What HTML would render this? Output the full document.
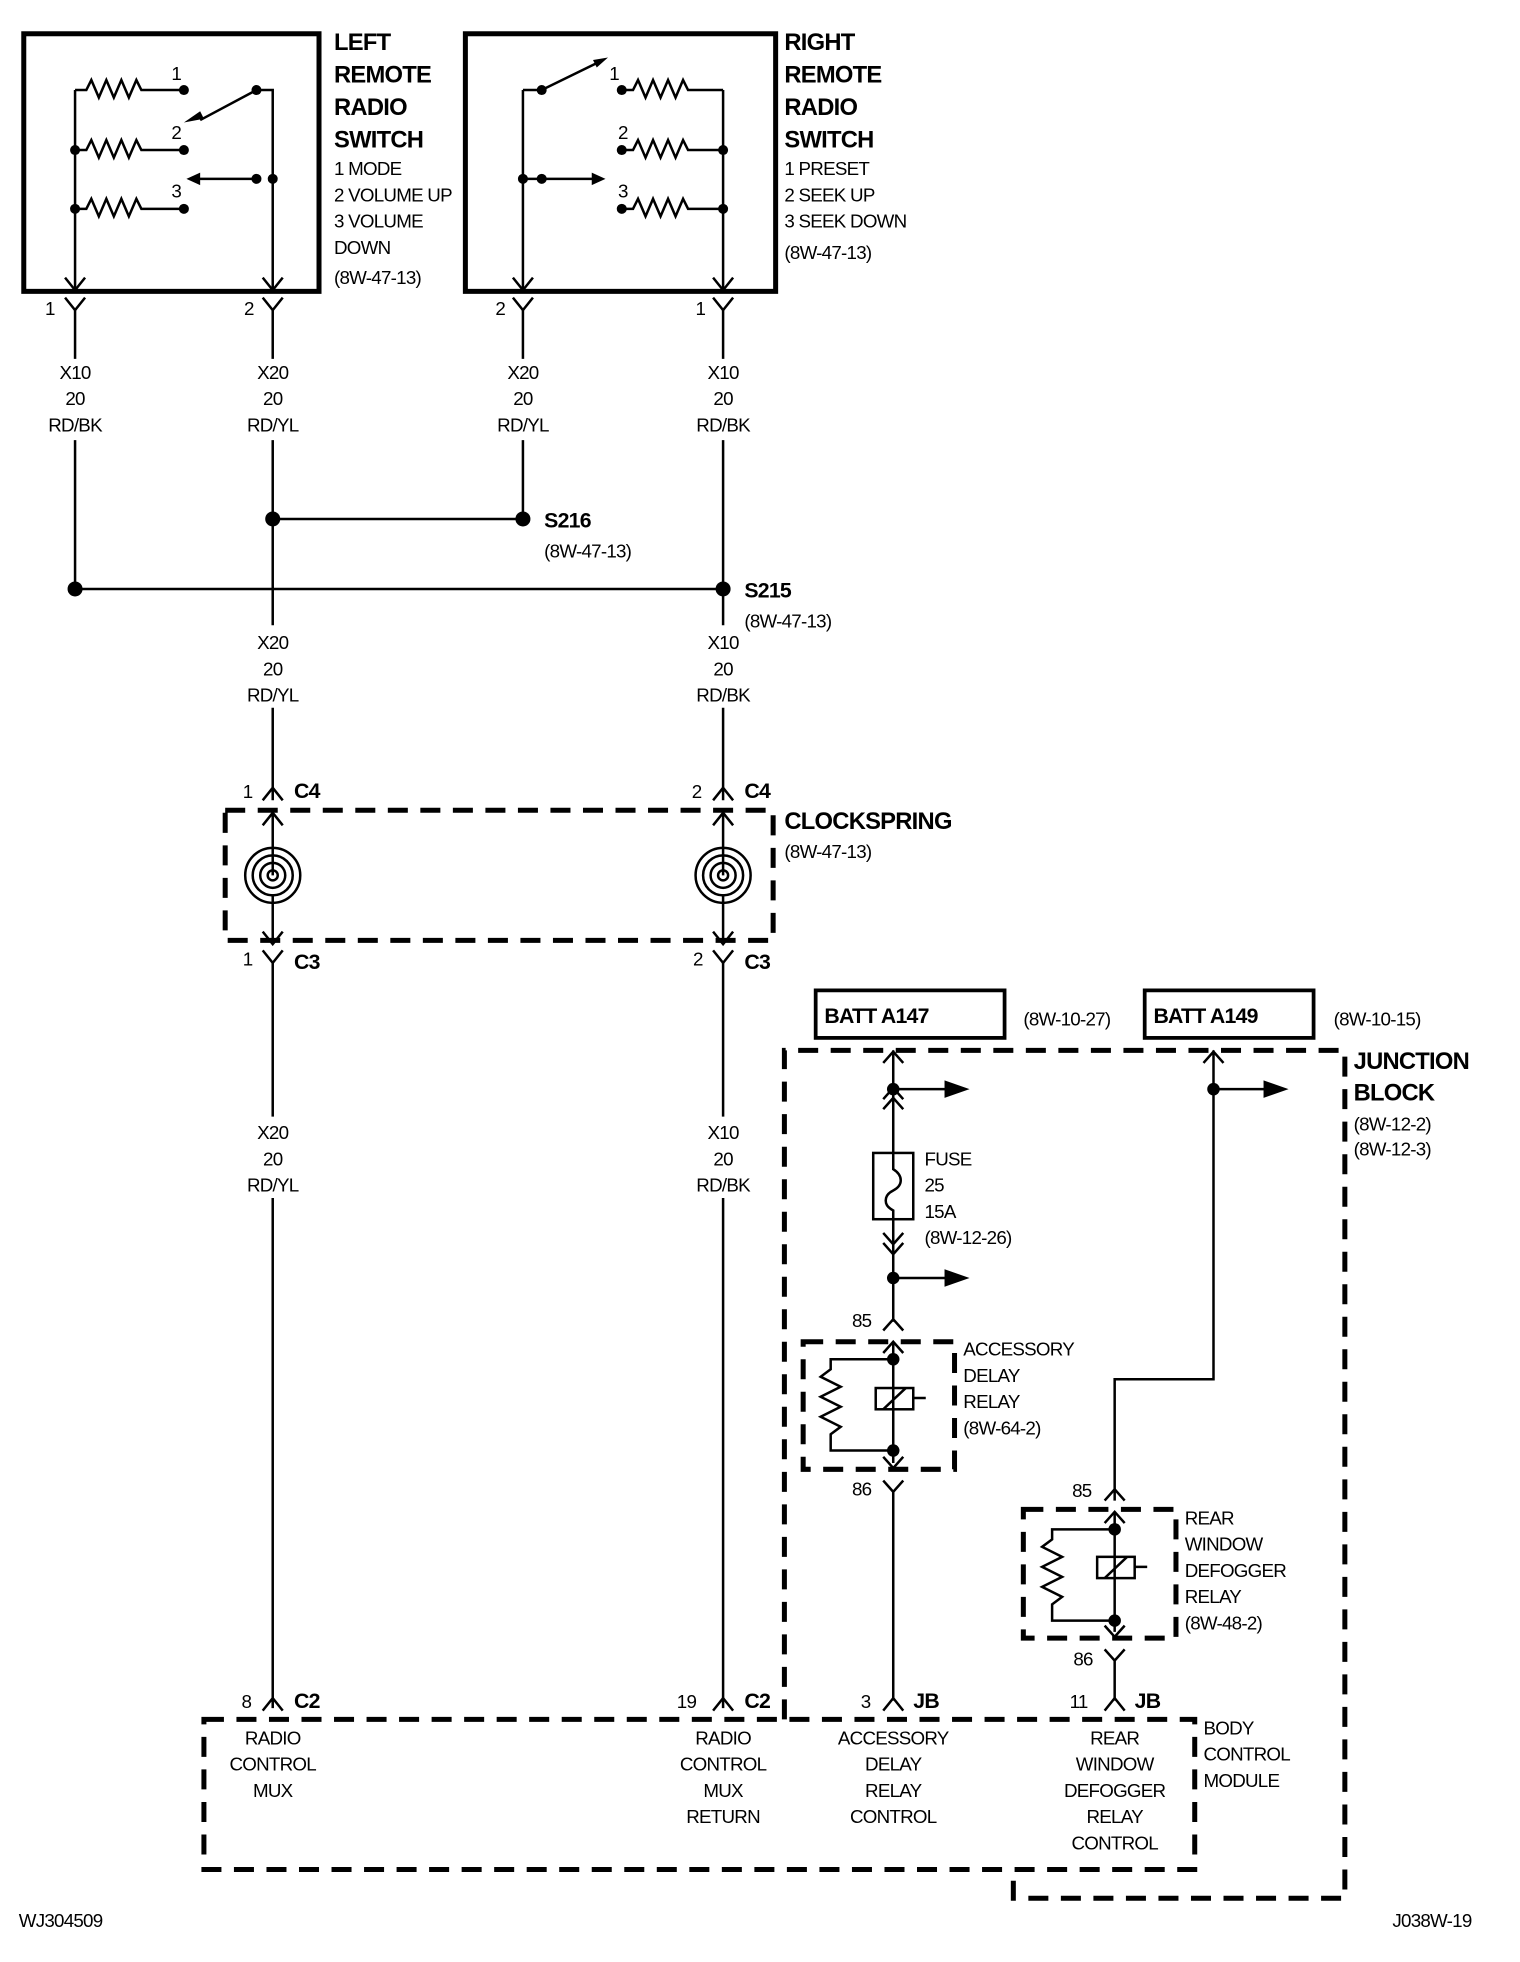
<!DOCTYPE html>
<html><head><meta charset="utf-8"><style>
html,body{margin:0;padding:0;background:#fff;}
svg{display:block;}
text{font-family:"Liberation Sans",Arial,sans-serif;fill:#000;letter-spacing:-0.6px;}
.s{font-size:15px;}
.b{font-size:19px;font-weight:bold;}
.m{font-size:17px;font-weight:bold;}
</style></head><body>
<svg width="1520" height="1962" viewBox="0 0 1215 1569" preserveAspectRatio="none" xmlns="http://www.w3.org/2000/svg">
<g fill="none" stroke="#000" stroke-width="2">
<rect x="19" y="27" width="236" height="206" stroke-width="4"/>
<path d="M60 72 H69 l4 -8 l6 14 l6 -14 l6 14 l6 -14 l6 14 l6 -14 l4 8 H147"/>
<path d="M60 120 H69 l4 -8 l6 14 l6 -14 l6 14 l6 -14 l6 14 l6 -14 l4 8 H147"/>
<path d="M60 167 H69 l4 -8 l6 14 l6 -14 l6 14 l6 -14 l6 14 l6 -14 l4 8 H147"/>
<path d="M60 72 V232 M205 72 H218 V232 M205 72 L160 96 M205 143 H158"/>
<path d="M52 222 L60 232 L68 222 M210 222 L218 232 L226 222"/>
<rect x="372" y="27" width="248" height="206" stroke-width="4"/>
<path d="M497 72 H506 l4 -8 l6 14 l6 -14 l6 14 l6 -14 l6 14 l6 -14 l4 8 H578"/>
<path d="M497 120 H506 l4 -8 l6 14 l6 -14 l6 14 l6 -14 l6 14 l6 -14 l4 8 H578"/>
<path d="M497 167 H506 l4 -8 l6 14 l6 -14 l6 14 l6 -14 l6 14 l6 -14 l4 8 H578"/>
<path d="M578 72 V232 M418 72 V232 M418 72 H433 L478 50 M418 143 H475"/>
<path d="M410 222 L418 232 L426 222 M570 222 L578 232 L586 222"/>
<path d="M52 238 L60 248 L68 238 M210 238 L218 248 L226 238 M410 238 L418 248 L426 238 M570 238 L578 248 L586 238"/>
<path d="M60 248 V287 M218 248 V287 M418 248 V287 M578 248 V287"/>
<path d="M60 352 V471 H578 M218 352 V500 M418 352 V415 H218 M578 352 V500"/>
<path d="M218 566 V640 M578 566 V640"/>
<path d="M210 640 L218 630 L226 640 M570 640 L578 630 L586 640"/>
<path d="M210 660 L218 650 L226 660 M570 660 L578 650 L586 660"/>
<path d="M218 650 V700 M578 650 V700 M218 715 V755 M578 715 V755"/>
<path d="M210 745 L218 755 L226 745 M570 745 L578 755 L586 745"/>
<path d="M210 760 L218 770 L226 760 M570 760 L578 770 L586 760"/>
<path d="M218 770 V893 M578 770 V893 M218 958 V1366 M578 958 V1366"/>
<path d="M180 648 H618 V752 H180 Z" stroke-width="4" stroke-dasharray="16,10"/>
<path d="M210 1368 L218 1358 L226 1368 M570 1368 L578 1358 L586 1368 M706 1368 L714 1358 L722 1368 M883 1368 L891 1358 L899 1368"/>
<path d="M163 1375 H955 V1495 H163 Z" stroke-width="4" stroke-dasharray="16,10"/>
<path d="M627 1375 V840 H1075 V1518 H810 V1495" stroke-width="4" stroke-dasharray="16,10"/>
<rect x="652" y="792" width="151" height="38" stroke-width="3"/>
<rect x="915" y="792" width="135" height="38" stroke-width="3"/>
<path d="M714 840 V922 M706 850 L714 841 L722 850 M714 871 H760 M706 879 L714 870 L722 879 M706 887 L714 878 L722 887"/>
<rect x="698" y="922" width="32" height="53"/>
<path d="M714 922 V935 C722 940 722 948 714 952 C706 956 706 964 714 968 V1057"/>
<path d="M706 986 L714 995 L722 986 M706 994 L714 1003 L722 994 M714 1022 H760"/>
<path d="M706 1064 L714 1055 L722 1064 M706 1082 L714 1073 L722 1082"/>
<path d="M714 1073 V1170 M714 1087 H664 V1095 l-8 6 l16 8 l-16 8 l16 8 l-16 8 l16 8 l-8 6 V1160 H714"/>
<rect x="700" y="1110" width="30" height="17"/>
<path d="M706 1127 L724 1110 M730 1118 H740"/>
<path d="M706 1165 L714 1174 L722 1165 M706 1184 L714 1193 L722 1184 M714 1193 V1360"/>
<path d="M642 1073 H763 V1175 H642 Z" stroke-width="4" stroke-dasharray="16,10"/>
<path d="M970 840 V1103 H891 V1200 M962 850 L970 841 L978 850 M970 871 H1015"/>
<path d="M883 1200 L891 1191 L899 1200 M883 1218 L891 1209 L899 1218"/>
<path d="M891 1209 V1305 M891 1223 H841 V1231 l-8 6 l16 8 l-16 8 l16 8 l-16 8 l16 8 l-8 6 V1296 H891"/>
<rect x="877" y="1245" width="30" height="17"/>
<path d="M883 1262 L901 1245 M907 1253 H917"/>
<path d="M883 1300 L891 1309 L899 1300 M883 1319 L891 1328 L899 1319 M891 1328 V1360"/>
<path d="M818 1207 H940 V1310 H818 Z" stroke-width="4" stroke-dasharray="16,10"/>
<g stroke-width="2">
<circle cx="218" cy="700" r="22"/><circle cx="218" cy="700" r="16"/><circle cx="218" cy="700" r="10"/><circle cx="218" cy="700" r="4"/>
<circle cx="578" cy="700" r="22"/><circle cx="578" cy="700" r="16"/><circle cx="578" cy="700" r="10"/><circle cx="578" cy="700" r="4"/>
</g>
</g>
<g fill="#000">
<circle cx="147" cy="72" r="4"/><circle cx="205" cy="72" r="4"/><circle cx="60" cy="120" r="4"/><circle cx="147" cy="120" r="4"/>
<circle cx="205" cy="143" r="4"/><circle cx="218" cy="143" r="4"/><circle cx="60" cy="167" r="4"/><circle cx="147" cy="167" r="4"/>
<circle cx="433" cy="72" r="4"/><circle cx="497" cy="72" r="4"/><circle cx="497" cy="120" r="4"/><circle cx="578" cy="120" r="4"/>
<circle cx="418" cy="143" r="4"/><circle cx="433" cy="143" r="4"/><circle cx="497" cy="167" r="4"/><circle cx="578" cy="167" r="4"/>
<path d="M147 98 L160 89 L163 95 Z"/><path d="M149 143 L160 138 L160 148 Z"/>
<path d="M486 46 L474 48 L477 54 Z"/><path d="M484 143 L473 138 L473 148 Z"/>
<circle cx="218" cy="415" r="6"/><circle cx="418" cy="415" r="6"/>
<circle cx="60" cy="471" r="6"/><circle cx="578" cy="471" r="6"/>
<circle cx="714" cy="871" r="5"/><circle cx="714" cy="1022" r="5"/><circle cx="970" cy="871" r="5"/>
<path d="M755 864 L775 871 L755 878 Z"/><path d="M755 1015 L775 1022 L755 1029 Z"/><path d="M1010 864 L1030 871 L1010 878 Z"/>
<circle cx="714" cy="1087" r="5"/><circle cx="714" cy="1160" r="5"/>
<circle cx="891" cy="1223" r="5"/><circle cx="891" cy="1296" r="5"/>
</g>
<g>
<text class="s" x="137" y="64">1</text><text class="s" x="137" y="111">2</text><text class="s" x="137" y="158">3</text>
<text class="s" x="487" y="64">1</text><text class="s" x="494" y="111">2</text><text class="s" x="494" y="158">3</text>
<text class="b" x="267" y="40">LEFT</text><text class="b" x="267" y="66">REMOTE</text><text class="b" x="267" y="92">RADIO</text><text class="b" x="267" y="118">SWITCH</text>
<text class="s" x="267" y="140">1 MODE</text><text class="s" x="267" y="161">2 VOLUME UP</text><text class="s" x="267" y="182">3 VOLUME</text><text class="s" x="267" y="203">DOWN</text><text class="s" x="267" y="227">(8W-47-13)</text>
<text class="b" x="627" y="40">RIGHT</text><text class="b" x="627" y="66">REMOTE</text><text class="b" x="627" y="92">RADIO</text><text class="b" x="627" y="118">SWITCH</text>
<text class="s" x="627" y="140">1 PRESET</text><text class="s" x="627" y="161">2 SEEK UP</text><text class="s" x="627" y="182">3 SEEK DOWN</text><text class="s" x="627" y="207">(8W-47-13)</text>
<text class="s" x="36" y="252">1</text><text class="s" x="195" y="252">2</text><text class="s" x="396" y="252">2</text><text class="s" x="556" y="252">1</text>
<g class="s" text-anchor="middle">
<text x="60" y="303">X10</text><text x="60" y="324">20</text><text x="60" y="345">RD/BK</text>
<text x="218" y="303">X20</text><text x="218" y="324">20</text><text x="218" y="345">RD/YL</text>
<text x="418" y="303">X20</text><text x="418" y="324">20</text><text x="418" y="345">RD/YL</text>
<text x="578" y="303">X10</text><text x="578" y="324">20</text><text x="578" y="345">RD/BK</text>
<text x="218" y="519">X20</text><text x="218" y="540">20</text><text x="218" y="561">RD/YL</text>
<text x="578" y="519">X10</text><text x="578" y="540">20</text><text x="578" y="561">RD/BK</text>
<text x="218" y="911">X20</text><text x="218" y="932">20</text><text x="218" y="953">RD/YL</text>
<text x="578" y="911">X10</text><text x="578" y="932">20</text><text x="578" y="953">RD/BK</text>
<text x="218" y="1395">RADIO</text><text x="218" y="1416">CONTROL</text><text x="218" y="1437">MUX</text>
<text x="578" y="1395">RADIO</text><text x="578" y="1416">CONTROL</text><text x="578" y="1437">MUX</text><text x="578" y="1458">RETURN</text>
<text x="714" y="1395">ACCESSORY</text><text x="714" y="1416">DELAY</text><text x="714" y="1437">RELAY</text><text x="714" y="1458">CONTROL</text>
<text x="891" y="1395">REAR</text><text x="891" y="1416">WINDOW</text><text x="891" y="1437">DEFOGGER</text><text x="891" y="1458">RELAY</text><text x="891" y="1479">CONTROL</text>
</g>
<text class="m" x="435" y="422">S216</text><text class="s" x="435" y="446">(8W-47-13)</text>
<text class="m" x="595" y="478">S215</text><text class="s" x="595" y="502">(8W-47-13)</text>
<text class="s" x="194" y="638">1</text><text class="m" x="235" y="638">C4</text>
<text class="s" x="553" y="638">2</text><text class="m" x="595" y="638">C4</text>
<text class="b" x="627" y="663">CLOCKSPRING</text><text class="s" x="627" y="686">(8W-47-13)</text>
<text class="s" x="194" y="772">1</text><text class="m" x="235" y="775">C3</text>
<text class="s" x="554" y="772">2</text><text class="m" x="595" y="775">C3</text>
<text class="m" x="659" y="818">BATT A147</text><text class="s" x="818" y="820">(8W-10-27)</text>
<text class="m" x="922" y="818">BATT A149</text><text class="s" x="1066" y="820">(8W-10-15)</text>
<text class="b" x="1082" y="855">JUNCTION</text><text class="b" x="1082" y="880">BLOCK</text>
<text class="s" x="1082" y="904">(8W-12-2)</text><text class="s" x="1082" y="924">(8W-12-3)</text>
<text class="s" x="739" y="932">FUSE</text><text class="s" x="739" y="953">25</text><text class="s" x="739" y="974">15A</text><text class="s" x="739" y="995">(8W-12-26)</text>
<text class="s" x="681" y="1061">85</text><text class="s" x="681" y="1196">86</text>
<text class="s" x="770" y="1084">ACCESSORY</text><text class="s" x="770" y="1105">DELAY</text><text class="s" x="770" y="1126">RELAY</text><text class="s" x="770" y="1147">(8W-64-2)</text>
<text class="s" x="857" y="1197">85</text><text class="s" x="858" y="1332">86</text>
<text class="s" x="947" y="1219">REAR</text><text class="s" x="947" y="1240">WINDOW</text><text class="s" x="947" y="1261">DEFOGGER</text><text class="s" x="947" y="1282">RELAY</text><text class="s" x="947" y="1303">(8W-48-2)</text>
<text class="s" x="193" y="1366">8</text><text class="m" x="235" y="1366">C2</text>
<text class="s" x="541" y="1366">19</text><text class="m" x="595" y="1366">C2</text>
<text class="s" x="688" y="1366">3</text><text class="m" x="730" y="1366">JB</text>
<text class="s" x="855" y="1366">11</text><text class="m" x="907" y="1366">JB</text>
<text class="s" x="962" y="1387">BODY</text><text class="s" x="962" y="1408">CONTROL</text><text class="s" x="962" y="1429">MODULE</text>
<text class="s" x="15" y="1541">WJ304509</text><text class="s" x="1113" y="1541">J038W-19</text>
</g>
</svg>
</body></html>
